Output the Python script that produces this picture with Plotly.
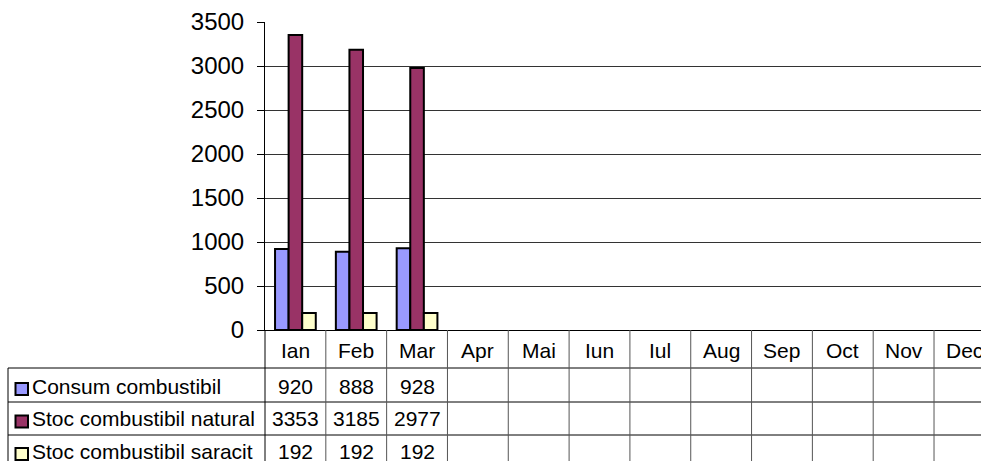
import plotly.graph_objects as go

# ---- data ----
months = ["Ian", "Feb", "Mar", "Apr", "Mai", "Iun", "Iul", "Aug", "Sep", "Oct", "Nov", "Dec"]
series_names = ["Consum combustibil", "Stoc combustibil natural", "Stoc combustibil saracit"]
consum = [920, 888, 928, None, None, None, None, None, None, None, None, None]
stoc_natural = [3353, 3185, 2977, None, None, None, None, None, None, None, None, None]
stoc_saracit = [192, 192, 192, None, None, None, None, None, None, None, None, None]
colors = ["#9999FF", "#993366", "#FFFFCC"]
y_ticks = [0, 500, 1000, 1500, 2000, 2500, 3000, 3500]

series_values = [consum, stoc_natural, stoc_saracit]

# ---- layout geometry (pixels) ----
W, HF = 981, 461
L, T = 265, 22
PB = 330                      # plot bottom pixel
PH = PB - T                   # plot height
PW = W - L
COLW = 60.82                  # category width in px
FONT = "Arial, Liberation Sans, sans-serif"


def py(p):
    """pixel y -> paper y"""
    return (PB - p) / PH


def px(p):
    """pixel x -> paper x"""
    return (p - L) / PW


fig = go.Figure()
for name, vals, col in zip(series_names, series_values, colors):
    fig.add_trace(go.Bar(
        x=months, y=vals, name=name,
        marker=dict(color=col, line=dict(color="black", width=2)),
        showlegend=False,
    ))

x_end = -0.5 + PW / COLW

shapes = []
annotations = []
line_col = "black"

# horizontal table lines
row_lines = [368, 402, 435, 470]
for r in row_lines:
    shapes.append(dict(type="line", xref="paper", yref="paper",
                       x0=px(8), x1=1, y0=py(r), y1=py(r),
                       line=dict(color=line_col, width=1)))
# left border of label column
shapes.append(dict(type="line", xref="paper", yref="paper",
                   x0=px(8), x1=px(8), y0=py(368), y1=py(470),
                   line=dict(color=line_col, width=1)))
# left border of value columns (continuation of y axis)
shapes.append(dict(type="line", xref="paper", yref="paper",
                   x0=0, x1=0, y0=py(PB), y1=py(470),
                   line=dict(color=line_col, width=1)))
# category boundaries
for k in range(1, len(months)):
    shapes.append(dict(type="line", xref="x", yref="paper",
                       x0=k - 0.5, x1=k - 0.5, y0=py(PB), y1=py(470),
                       line=dict(color="#555555", width=1)))

# header month labels
for m in months:
    annotations.append(dict(xref="x", yref="paper", x=m, y=py(350),
                            text=m, showarrow=False, xanchor="center", yanchor="middle",
                            font=dict(family=FONT, size=21, color="black")))

row_centers = [386, 418.5, 451]
for name, vals, col, rc in zip(series_names, series_values, colors, row_centers):
    # legend key
    shapes.append(dict(type="rect", xref="paper", yref="paper",
                       x0=px(15.5), x1=px(28), y0=py(rc - 3), y1=py(rc + 9),
                       fillcolor=col, line=dict(color="black", width=2)))
    annotations.append(dict(xref="paper", yref="paper", x=px(30), y=py(rc),
                            text=name, showarrow=False, xanchor="left", yanchor="middle",
                            font=dict(family=FONT, size=21, color="black")))
    for m, v in zip(months, vals):
        if v is None:
            continue
        annotations.append(dict(xref="x", yref="paper", x=m, y=py(rc),
                                text=str(v), showarrow=False, xanchor="center", yanchor="middle",
                                font=dict(family=FONT, size=21, color="black")))

fig.update_layout(
    width=W, height=HF,
    margin=dict(l=L, r=0, t=T, b=HF - PB, pad=0),
    paper_bgcolor="white", plot_bgcolor="white",
    barmode="group", bargap=0.33, bargroupgap=0,
    shapes=shapes, annotations=annotations,
    font=dict(family=FONT, color="black"),
)
fig.update_xaxes(type="category", categoryorder="array", categoryarray=months,
                 range=[-0.5, x_end], showticklabels=False, ticks="",
                 showline=True, linecolor="black", linewidth=1, showgrid=False,
                 zeroline=False)
fig.update_yaxes(range=[0, 3500], tickvals=y_ticks, ticks="outside", ticklen=7,
                 tickcolor="black", tickwidth=1,
                 showline=True, linecolor="black", linewidth=1,
                 showgrid=True, gridcolor="#333333", gridwidth=1, zeroline=False,
                 tickfont=dict(family=FONT, size=24, color="black"),
                 ticklabelstandoff=8)

fig.write_html(
    "out.html",
    config={"displayModeBar": False},
    post_script="document.body.style.margin='0';document.body.style.overflow='hidden';",
)
